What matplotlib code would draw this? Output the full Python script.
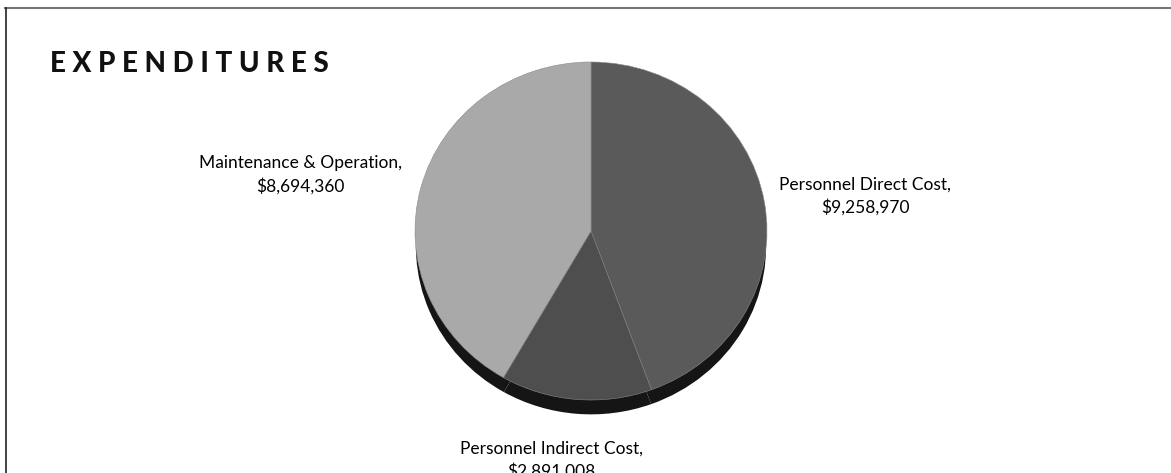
import numpy as np
import matplotlib.pyplot as plt
from matplotlib.lines import Line2D

# data
categories = ['Personnel Direct Cost', 'Personnel Indirect Cost', 'Maintenance & Operation']
amounts = [9258970, 2891008, 8694360]
colors = ['#5a5a5a', '#4e4e4e', '#a9a9a9']

W, H = 1171, 473
fig = plt.figure(figsize=(W / 100, H / 100), dpi=100)
fig.patch.set_facecolor('white')

# pie box in pixels (slightly squashed, like the tilted original)
cx, cy, rx, ry = 591, 231, 176, 169
ax = fig.add_axes([(cx - rx) / W, 1 - (cy + ry) / H, 2 * rx / W, 2 * ry / H])

# dark rim under the pie (same data, drawn black and shifted down)
ax.pie(amounts, colors=['#151515'] * len(amounts), startangle=90, counterclock=False,
       center=(0, -0.09), radius=0.995, wedgeprops={'linewidth': 0})

labels = ['{},\n${:,}'.format(c, a) for c, a in zip(categories, amounts)]
wedges, texts = ax.pie(amounts, colors=colors, startangle=90, counterclock=False,
                       labels=labels, labeldistance=1.3,
                       wedgeprops={'edgecolor': '#8a8a8a', 'linewidth': 0.4},
                       textprops={'family': 'Lato', 'fontsize': 12.5, 'color': 'black',
                                  'ha': 'center', 'va': 'center', 'linespacing': 1.45})
ax.set_aspect('auto')
ax.set_xlim(-1, 1)
ax.set_ylim(-1, 1)

# move labels where the original has them (pixel positions -> data)
label_px = [(865, 196), (551, 460), (300, 175)]
for t, (px, py) in zip(texts, label_px):
    t.set_position(((px - cx) / rx, (cy - py) / ry))
    t.set_clip_on(False)

fig.text(50 / W, 1 - 64 / H, 'E X P E N D I T U R E S', family='Lato', fontweight='black',
         fontsize=20, ha='left', va='center', color='#111111')

# scanned frame edges
fig.add_artist(Line2D([5 / W, 1], [1 - 8 / H, 1 - 8 / H], color='#777777', lw=1.5))
fig.add_artist(Line2D([6 / W, 6 / W], [0, 1 - 8 / H], color='#222222', lw=1.2))

fig.savefig('out.png', dpi=100)
